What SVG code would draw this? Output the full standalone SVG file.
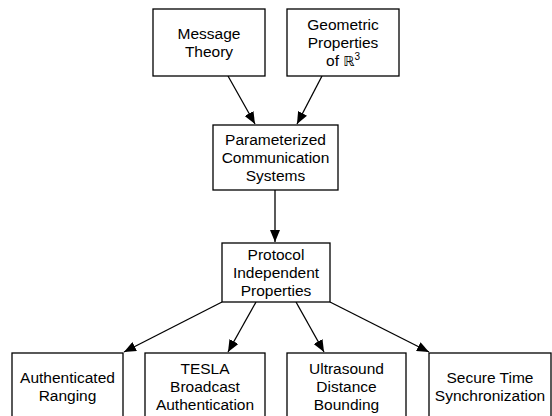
<svg xmlns="http://www.w3.org/2000/svg" width="552" height="416" viewBox="0 0 552 416">
<defs>
<marker id="ah" viewBox="0 0 12 10" refX="12" refY="5" markerWidth="12" markerHeight="10" markerUnits="userSpaceOnUse" orient="auto">
<path d="M0,0 L12,5 L0,10 z" fill="#000"/>
</marker>
<style>
.box{fill:#fff;stroke:#000;stroke-width:1.3}
.t{font-family:"Liberation Sans",Arial,Helvetica,sans-serif;font-size:15.5px;fill:#000;text-anchor:middle}
.c{stroke:#000;stroke-width:1.3;fill:none;marker-end:url(#ah)}
</style>
</defs>
<rect width="552" height="416" fill="#fff"/>
<g id="connectors">
<line class="c" x1="228" y1="76" x2="255" y2="124"/>
<line class="c" x1="322" y1="76" x2="297" y2="124"/>
<line class="c" x1="275" y1="190" x2="275" y2="242"/>
<line class="c" x1="222" y1="302" x2="124" y2="352"/>
<line class="c" x1="256" y1="302" x2="228" y2="352"/>
<line class="c" x1="296" y1="302" x2="324" y2="352"/>
<line class="c" x1="330" y1="302" x2="429" y2="352"/>
</g>
<g id="message-theory">
<rect class="box" x="153" y="9" width="112" height="67"/>
<text class="t" x="209" y="39">Message</text>
<text class="t" x="209" y="57">Theory</text>
</g>
<g id="geometric-properties">
<rect class="box" x="287" y="9" width="112" height="67"/>
<text class="t" x="343" y="30">Geometric</text>
<text class="t" x="343" y="48">Properties</text>
<text class="t" x="343" y="66">of <tspan font-family="DejaVu Sans, sans-serif" font-size="14">ℝ</tspan><tspan font-size="10" dy="-6">3</tspan></text>
</g>
<g id="parameterized">
<rect class="box" x="213" y="125" width="125" height="65"/>
<text class="t" x="275.5" y="145">Parameterized</text>
<text class="t" x="275.5" y="163">Communication</text>
<text class="t" x="275.5" y="181">Systems</text>
</g>
<g id="protocol">
<rect class="box" x="222" y="243" width="108" height="59"/>
<text class="t" x="276" y="260">Protocol</text>
<text class="t" x="276" y="278">Independent</text>
<text class="t" x="276" y="296">Properties</text>
</g>
<g id="authenticated-ranging">
<rect class="box" x="12" y="353" width="111" height="80"/>
<text class="t" x="67.5" y="383">Authenticated</text>
<text class="t" x="67.5" y="401">Ranging</text>
</g>
<g id="tesla">
<rect class="box" x="145" y="353" width="120" height="80"/>
<text class="t" x="205" y="374">TESLA</text>
<text class="t" x="205" y="392">Broadcast</text>
<text class="t" x="205" y="410">Authentication</text>
</g>
<g id="ultrasound">
<rect class="box" x="287" y="353" width="119" height="80"/>
<text class="t" x="346.5" y="374">Ultrasound</text>
<text class="t" x="346.5" y="392">Distance</text>
<text class="t" x="346.5" y="410">Bounding</text>
</g>
<g id="secure-time">
<rect class="box" x="429" y="353" width="122" height="80"/>
<text class="t" x="490" y="383">Secure Time</text>
<text class="t" x="490" y="401">Synchronization</text>
</g>
</svg>
